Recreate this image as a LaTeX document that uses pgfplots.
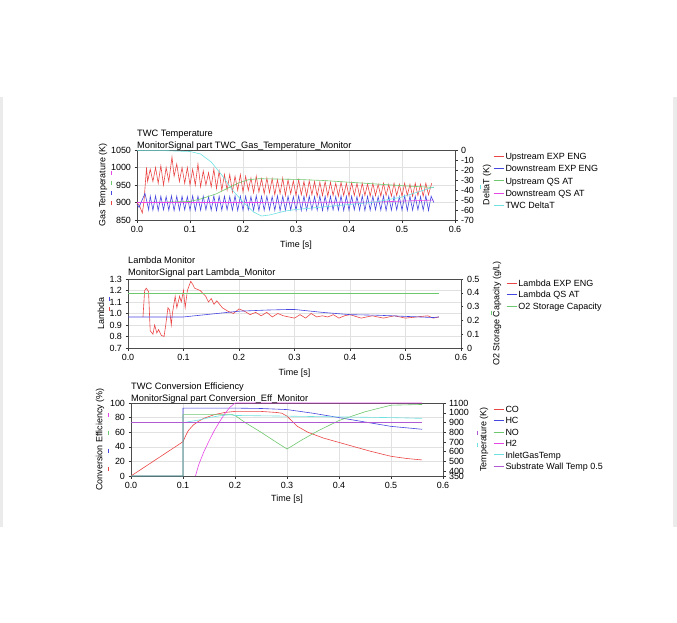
\documentclass[border=0pt]{standalone}
\usepackage{fontspec}
\setmainfont{Liberation Sans}
\usepackage{pgfplots}
\pgfplotsset{compat=1.18}

\definecolor{cRed}{RGB}{235,70,70}
\definecolor{cBlue}{RGB}{70,70,225}
\definecolor{cGreen}{RGB}{110,200,110}
\definecolor{cMag}{RGB}{230,70,230}
\definecolor{cCyan}{RGB}{110,225,225}
\definecolor{cPurp}{RGB}{175,90,210}
\definecolor{cGrid}{RGB}{225,225,225}

\newcommand{\fs}{\fontsize{9}{10}\selectfont}
\newcommand{\ft}{\fontsize{9.3}{10}\selectfont}

\pgfplotsset{
  legend image code/.code={\draw[#1, line width=0.8bp] (0bp,1bp) -- (10bp,1bp);},
  base/.style={
    scale only axis,
    xmin=0, xmax=0.6,
    xtick={0,0.1,0.2,0.3,0.4,0.5,0.6},
    tick align=outside,
    major tick length=2.5bp,
    every tick/.style={black!80, line width=0.4bp},
    axis line style={black!70, line width=0.5bp},
    font=\fs,
    ticklabel style={font=\fs},
    /pgf/number format/assume math mode=true,
    /pgf/number format/1000 sep={},
    x tick label style={/pgf/number format/.cd, fixed, fixed zerofill, precision=1},
    every axis plot/.append style={line width=0.6bp},
    clip=false,
  },
  leftax/.style={
    base,
    grid=major, grid style={cGrid, line width=0.5bp},
    xtick pos=bottom, ytick pos=left,
    every axis x label/.style={at={(axis description cs:0.5,0)}, anchor=center},
    every axis y label/.style={rotate=90, anchor=center},
    legend cell align=left,
  },
  rightax/.style={
    base,
    axis x line=none, axis y line*=right, ytick pos=right,
    every axis y label/.style={rotate=90, anchor=center},
  },
  leg/.style={legend style={at={(axis description cs:1,1)}, anchor=north west,
    draw=none, fill=none, inner sep=0pt, column sep=1.5bp, font=\fs,
    nodes={inner sep=0pt, text height=6.5bp, text depth=2bp}}},
}

\begin{document}
\begin{tikzpicture}
\path (0,0) rectangle (677bp,-623bp);
\fill[black!8] (0,-97bp) rectangle (3bp,-527bp);
\fill[black!8] (673bp,-97bp) rectangle (677bp,-527bp);

% ---------------- TWC Temperature ----------------
\begin{axis}[leftax, at={(137bp,-220bp)}, width=318bp, height=70bp,
  ymin=850, ymax=1050, ytick={850,900,950,1000,1050},
  xlabel={Time [s]}, xlabel style={yshift=-25bp},
  ylabel={Gas Temperature (K)}, ylabel style={at={([xshift=-34bp]axis description cs:0,0.5)}},
  leg, legend style={xshift=38bp, yshift=-2.75bp, row sep=3.8bp}]
\addplot[cRed] coordinates {
(0.000,900) (0.005,890) (0.010,870) (0.013,900) (0.016,960) (0.018,1000)
(0.020,960) (0.025,995) (0.030,960) (0.035,1000) (0.040,955) (0.045,1005)
(0.050,950) (0.055,1000) (0.060,960) (0.066,1030) (0.070,975) (0.075,1010)
(0.080,960) (0.085,1000) (0.090,955) (0.095,1000) (0.100,950) (0.105,995)
(0.110,950) (0.115,1010) (0.120,945) (0.125,990) (0.130,950) (0.135,985)
(0.140,945) (0.145,995) (0.150,940) (0.155,990) (0.160,935) (0.165,980)
(0.170,935) (0.175,980) (0.180,930) (0.185,975) (0.190,935) (0.195,980)
(0.200,930) (0.205,975) (0.210,935) (0.215,970) (0.220,928) (0.225,975)
(0.230,930) (0.235,968) (0.240,925) (0.245,970) (0.250,928) (0.255,968)
(0.260,922) (0.265,965) (0.270,925) (0.275,970) (0.280,920) (0.285,965)
(0.290,925) (0.295,962) (0.300,920) (0.305,965) (0.310,922) (0.315,960)
(0.320,918) (0.325,962) (0.330,922) (0.335,960) (0.340,918) (0.345,958)
(0.350,920) (0.355,960) (0.360,918) (0.365,958) (0.370,920) (0.375,955)
(0.380,918) (0.385,958) (0.390,920) (0.395,955) (0.400,918) (0.405,957)
(0.410,920) (0.415,955) (0.420,918) (0.425,955) (0.430,920) (0.435,953)
(0.440,918) (0.445,955) (0.450,920) (0.455,952) (0.460,918) (0.465,955)
(0.470,920) (0.475,952) (0.480,918) (0.485,955) (0.490,920) (0.495,952)
(0.500,918) (0.505,955) (0.510,920) (0.515,952) (0.520,918) (0.525,955)
(0.530,920) (0.535,952) (0.540,918) (0.545,955) (0.550,922) (0.556,955)
};
\addlegendentry{Upstream EXP ENG}
\addplot[cBlue] coordinates {
(0.000,895) (0.004,886) (0.008,902) (0.012,915) (0.015,926) (0.019,900) (0.022,879)
(0.025,918) (0.030,878) (0.035,919) (0.040,877) (0.045,918) (0.050,879)
(0.055,917) (0.060,878) (0.065,919) (0.070,877) (0.075,918) (0.080,878)
(0.085,918) (0.090,879) (0.095,917) (0.100,878) (0.105,919) (0.110,877)
(0.115,918) (0.120,878) (0.125,918) (0.130,879) (0.135,917) (0.140,878)
(0.145,919) (0.150,877) (0.155,918) (0.160,878) (0.165,918) (0.170,879)
(0.175,917) (0.180,878) (0.185,919) (0.190,877) (0.195,918) (0.200,878)
(0.205,918) (0.210,879) (0.215,917) (0.220,878) (0.225,919) (0.230,877)
(0.235,918) (0.240,878) (0.245,918) (0.250,879) (0.255,917) (0.260,878)
(0.265,919) (0.270,877) (0.275,918) (0.280,878) (0.285,918) (0.290,879)
(0.295,917) (0.300,878) (0.305,919) (0.310,877) (0.315,918) (0.320,878)
(0.325,918) (0.330,879) (0.335,917) (0.340,878) (0.345,919) (0.350,877)
(0.355,918) (0.360,878) (0.365,918) (0.370,879) (0.375,917) (0.380,878)
(0.385,919) (0.390,877) (0.395,918) (0.400,878) (0.405,918) (0.410,879)
(0.415,917) (0.420,878) (0.425,919) (0.430,877) (0.435,918) (0.440,878)
(0.445,918) (0.450,879) (0.455,917) (0.460,878) (0.465,919) (0.470,877)
(0.475,918) (0.480,878) (0.485,918) (0.490,879) (0.495,917) (0.500,878)
(0.505,919) (0.510,877) (0.515,918) (0.520,878) (0.525,918) (0.530,879)
(0.535,917) (0.540,878) (0.545,919) (0.550,877) (0.555,918) (0.560,900)
};
\addlegendentry{Downstream EXP ENG}
\addplot[cGreen] coordinates {
(0.000,900) (0.050,901) (0.100,903) (0.120,910) (0.150,925) (0.170,940)
(0.190,955) (0.210,965) (0.230,968) (0.300,966) (0.350,963) (0.400,958)
(0.450,953) (0.500,948) (0.560,943)
};
\addlegendentry{Upstream QS AT}
\addplot[cMag] coordinates {
(0.000,900) (0.200,900) (0.450,901) (0.500,904) (0.560,907)
};
\addlegendentry{Downstream QS AT}
\addlegendimage{cCyan}
\addlegendentry{TWC DeltaT}
\end{axis}
\begin{axis}[rightax, at={(137bp,-220bp)}, width=318bp, height=70bp,
  ymin=-70, ymax=0, ytick={-70,-60,-50,-40,-30,-20,-10,0},
  ylabel={DeltaT (K)}, ylabel style={at={([xshift=32bp]axis description cs:1,0.5)}}]
\addplot[cCyan] coordinates {
(0.000,-0.6) (0.050,-0.6) (0.100,-1.5) (0.120,-4) (0.140,-12) (0.160,-25)
(0.180,-40) (0.200,-52) (0.220,-62) (0.235,-66) (0.250,-65) (0.280,-61)
(0.300,-59.5) (0.350,-57) (0.400,-54.5) (0.450,-52) (0.500,-47) (0.530,-42)
(0.560,-37)
};
\end{axis}

% ---------------- Lambda Monitor ----------------
\begin{axis}[leftax, at={(128bp,-348bp)}, width=333bp, height=69bp,
  ymin=0.7, ymax=1.3, ytick={0.7,0.8,0.9,1.0,1.1,1.2,1.3},
  y tick label style={/pgf/number format/.cd, fixed, fixed zerofill, precision=1},
  xlabel={Time [s]}, xlabel style={yshift=-25bp},
  ylabel={Lambda}, ylabel style={at={([xshift=-27bp]axis description cs:0,0.5)}},
  leg, legend style={xshift=45bp, yshift=-0.75bp, row sep=2.9bp}]
\addplot[cRed] coordinates {
(0.027,0.97) (0.030,1.20) (0.033,1.22) (0.037,1.19) (0.040,0.85) (0.045,0.82)
(0.048,0.90) (0.052,0.83) (0.055,0.86) (0.060,0.81) (0.065,0.80) (0.068,0.90)
(0.072,1.05) (0.075,1.03) (0.078,0.90) (0.080,1.00) (0.085,1.15) (0.088,1.05)
(0.093,1.15) (0.096,1.10) (0.100,1.20) (0.103,1.05) (0.107,1.20) (0.113,1.28)
(0.117,1.25) (0.120,1.22) (0.130,1.20) (0.140,1.15) (0.145,1.10) (0.150,1.13)
(0.155,1.08) (0.160,1.11) (0.170,1.05) (0.180,1.02) (0.190,1.00) (0.200,1.04)
(0.210,1.02) (0.220,0.99) (0.230,1.01) (0.240,0.98) (0.250,1.01) (0.260,0.97)
(0.270,1.00) (0.280,0.98) (0.290,0.97) (0.300,0.96) (0.310,0.99) (0.320,0.96)
(0.330,1.00) (0.340,0.97) (0.350,0.98) (0.360,0.97) (0.370,0.99) (0.380,0.96)
(0.390,0.98) (0.400,0.99) (0.420,0.96) (0.440,0.98) (0.460,0.96) (0.480,0.98)
(0.500,0.96) (0.520,0.97) (0.540,0.98) (0.550,0.96) (0.560,0.97)
};
\addlegendentry{Lambda EXP ENG}
\addplot[cBlue] coordinates {
(0.000,0.97) (0.100,0.97) (0.200,1.02) (0.250,1.03) (0.290,1.035) (0.300,1.035)
(0.350,1.01) (0.400,0.99) (0.450,0.985) (0.500,0.975) (0.550,0.965) (0.560,0.97)
};
\addlegendentry{Lambda QS AT}
\addlegendimage{cGreen}
\addlegendentry{O2 Storage Capacity}
\end{axis}
\begin{axis}[rightax, at={(128bp,-348bp)}, width=333bp, height=69bp,
  ymin=0, ymax=0.5, ytick={0,0.1,0.2,0.3,0.4,0.5},
  ylabel={O2 Storage Capacity (g/L)}, ylabel style={at={([xshift=36bp]axis description cs:1,0.5)}}]
\addplot[cGreen] coordinates {(0.000,0.4) (0.560,0.4)};
\end{axis}

% ---------------- TWC Conversion Efficiency ----------------
\begin{axis}[leftax, at={(131bp,-476bp)}, width=312bp, height=73bp,
  ymin=0, ymax=100, ytick={0,20,40,60,80,100},
  xlabel={Time [s]}, xlabel style={yshift=-23bp},
  ylabel={Conversion Efficiency (\%)}, ylabel style={at={([xshift=-31bp]axis description cs:0,0.5)}},
  leg, legend style={xshift=50bp, yshift=-2.75bp, row sep=2.9bp}]
\addplot[cRed] coordinates {
(0.000,0) (0.100,47) (0.105,55) (0.110,62) (0.120,70) (0.130,75) (0.140,79)
(0.160,84) (0.180,87) (0.200,88.5) (0.250,88.5) (0.280,87) (0.290,86)
(0.300,82) (0.310,75) (0.320,68) (0.340,60) (0.370,52) (0.400,46) (0.430,40)
(0.460,34) (0.500,27) (0.530,24) (0.560,22)
};
\addlegendentry{CO}
\addplot[cBlue] coordinates {
(0.000,0) (0.100,0) (0.100,93) (0.200,93) (0.250,92.5) (0.300,91) (0.350,86)
(0.400,80) (0.450,74) (0.500,68) (0.560,64)
};
\addlegendentry{HC}
\addplot[cGreen] coordinates {
(0.000,0) (0.100,0) (0.100,84) (0.195,84) (0.200,83) (0.220,73) (0.250,60)
(0.280,46) (0.300,37) (0.330,50) (0.360,62) (0.400,76) (0.450,88) (0.500,97)
(0.560,98)
};
\addlegendentry{NO}
\addplot[cMag] coordinates {
(0.124,0) (0.130,15) (0.140,33) (0.150,48) (0.160,62) (0.170,74) (0.180,85)
(0.190,94) (0.200,100) (0.560,100)
};
\addlegendentry{H2}
\addlegendimage{cCyan}
\addlegendentry{InletGasTemp}
\addlegendimage{cPurp}
\addlegendentry{Substrate Wall Temp 0.5}
\end{axis}
\begin{axis}[rightax, at={(131bp,-476bp)}, width=312bp, height=73bp,
  ymin=350, ymax=1100, ytick={350,400,500,600,700,800,900,1000,1100},
  ylabel={Temperature (K)}, ylabel style={at={([xshift=41bp]axis description cs:1,0.5)}}]
\addplot[cCyan] coordinates {
(0.000,900) (0.100,900) (0.100,898) (0.130,925) (0.150,950) (0.170,968)
(0.190,980) (0.200,972) (0.300,965) (0.400,957) (0.500,950) (0.560,942)
};
\addplot[cPurp] coordinates {(0.000,900) (0.560,900)};
\end{axis}

% titles
\node[anchor=base west, inner sep=0pt, font=\ft] at (137bp,-136bp) {TWC Temperature};
\node[anchor=base west, inner sep=0pt, font=\ft] at (137bp,-148.5bp) {MonitorSignal part TWC\_Gas\_Temperature\_Monitor};
\node[anchor=base west, inner sep=0pt, font=\ft] at (128bp,-263bp) {Lambda Monitor};
\node[anchor=base west, inner sep=0pt, font=\ft] at (128bp,-275.5bp) {MonitorSignal part Lambda\_Monitor};
\node[anchor=base west, inner sep=0pt, font=\ft] at (131bp,-389bp) {TWC Conversion Efficiency};
\node[anchor=base west, inner sep=0pt, font=\ft] at (131bp,-401bp) {MonitorSignal part Conversion\_Eff\_Monitor};

% colour keys beside the axis labels
\begin{scope}[line width=0.8bp]
\draw[cMag]   (111bp,-171bp) -- ++(0,-4bp);
\draw[cGreen] (111bp,-181bp) -- ++(0,-4bp);
\draw[cBlue]  (111bp,-191bp) -- ++(0,-4bp);
\draw[cRed]   (111bp,-201bp) -- ++(0,-4bp);
\draw[cCyan]  (480bp,-185bp) -- ++(0,-4bp);
\draw[cBlue]  (109bp,-297bp) -- ++(0,-4bp);
\draw[cRed]   (109bp,-307bp) -- ++(0,-4bp);
\draw[cGreen] (491bp,-311bp) -- ++(0,-4bp);
\draw[cMag]   (108bp,-413bp) -- ++(0,-4bp);
\draw[cGreen] (108bp,-431bp) -- ++(0,-4bp);
\draw[cBlue]  (108bp,-449bp) -- ++(0,-4bp);
\draw[cRed]   (108bp,-467bp) -- ++(0,-4bp);
\draw[cPurp]  (477bp,-431bp) -- ++(0,-4bp);
\draw[cCyan]  (477bp,-443bp) -- ++(0,-4bp);
\end{scope}
\end{tikzpicture}
\end{document}
